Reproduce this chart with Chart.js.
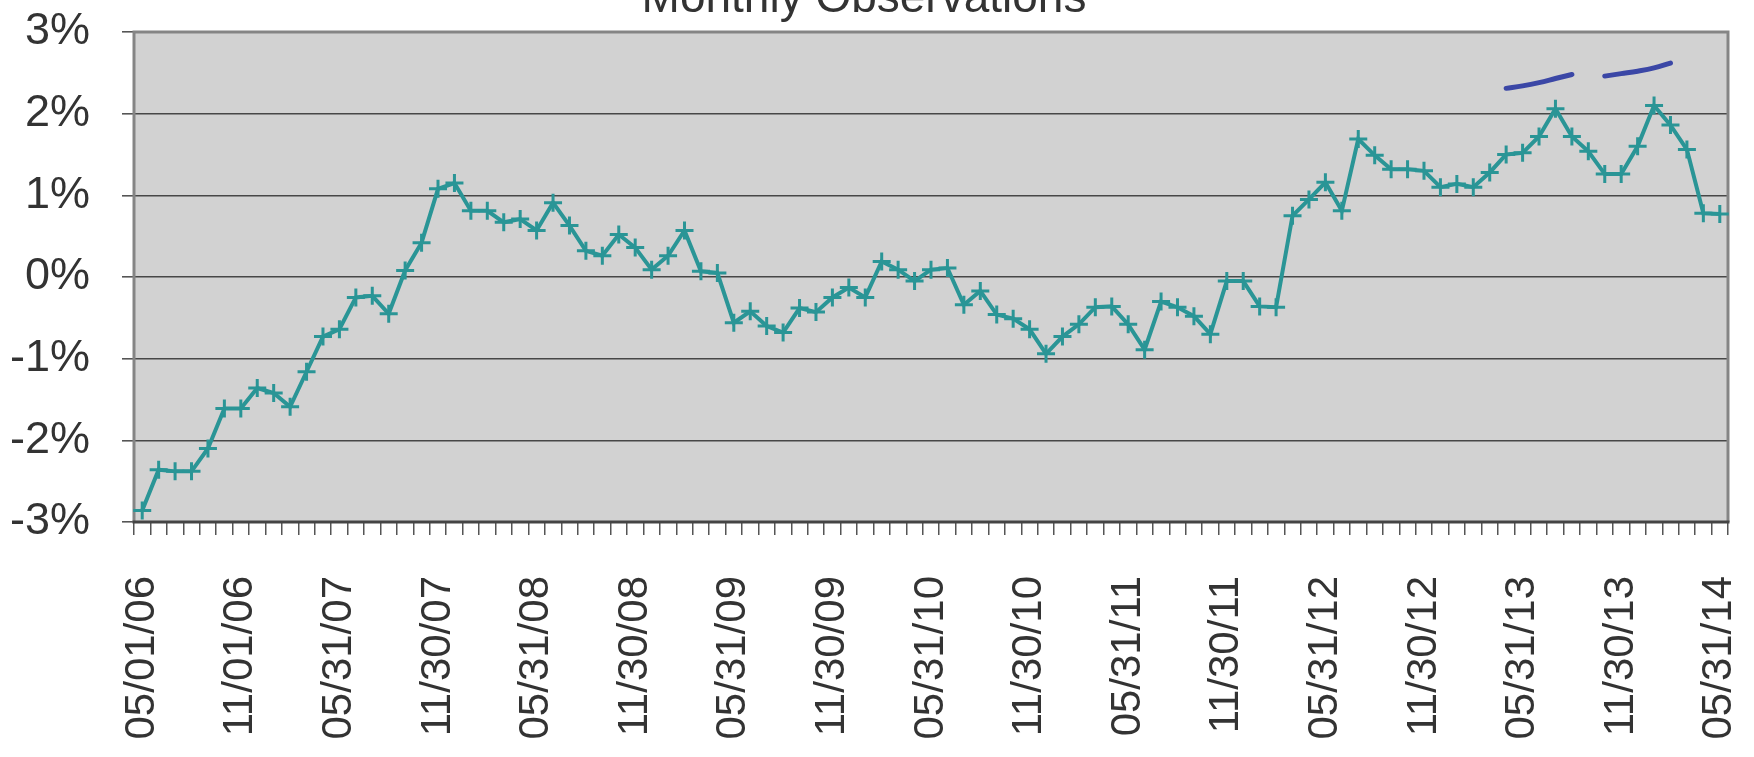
<!DOCTYPE html>
<html>
<head>
<meta charset="utf-8">
<title>Monthly Observations</title>
<script src="https://cdn.jsdelivr.net/npm/chart.js@4.4.1/dist/chart.umd.min.js"></script>
<style>
    html, body { margin: 0; padding: 0; background: #fff; overflow: hidden; }
    #chartBox { width: 1754px; height: 757px; overflow: hidden; }
    /* the title sits partly above the top edge of the page */
    #obsChart { display: block; margin-top: -28px; }
</style>
</head>
<body>
<div id="chartBox">
    <canvas id="obsChart" width="1754" height="785"></canvas>
</div>
<script>
// month-end observation dates (the first few were stamped on the 1st)
const dates = [
    '05/01/06', '06/01/06', '07/01/06', '08/01/06', '09/01/06', '10/01/06', '11/01/06', '12/31/06',
    '01/31/07', '02/28/07', '03/31/07', '04/30/07', '05/31/07', '06/30/07', '07/31/07', '08/31/07', '09/30/07', '10/31/07', '11/30/07', '12/31/07',
    '01/31/08', '02/29/08', '03/31/08', '04/30/08', '05/31/08', '06/30/08', '07/31/08', '08/31/08', '09/30/08', '10/31/08', '11/30/08', '12/31/08',
    '01/31/09', '02/28/09', '03/31/09', '04/30/09', '05/31/09', '06/30/09', '07/31/09', '08/31/09', '09/30/09', '10/31/09', '11/30/09', '12/31/09',
    '01/31/10', '02/28/10', '03/31/10', '04/30/10', '05/31/10', '06/30/10', '07/31/10', '08/31/10', '09/30/10', '10/31/10', '11/30/10', '12/31/10',
    '01/31/11', '02/28/11', '03/31/11', '04/30/11', '05/31/11', '06/30/11', '07/31/11', '08/31/11', '09/30/11', '10/31/11', '11/30/11', '12/31/11',
    '01/31/12', '02/29/12', '03/31/12', '04/30/12', '05/31/12', '06/30/12', '07/31/12', '08/31/12', '09/30/12', '10/31/12', '11/30/12', '12/31/12',
    '01/31/13', '02/28/13', '03/31/13', '04/30/13', '05/31/13', '06/30/13', '07/31/13', '08/31/13', '09/30/13', '10/31/13', '11/30/13', '12/31/13',
    '01/31/14', '02/28/14', '03/31/14', '04/30/14', '05/31/14'
];

// observed value, in percent
const observed = [
    -2.86, -2.36, -2.38, -2.38, -2.10, -1.61, -1.61, -1.36, -1.42, -1.59,
    -1.16, -0.73, -0.64, -0.25, -0.23, -0.45, 0.08, 0.42, 1.08, 1.15,
    0.81, 0.81, 0.67, 0.71, 0.57, 0.91, 0.63, 0.32, 0.26, 0.52,
    0.36, 0.09, 0.26, 0.57, 0.07, 0.05, -0.56, -0.42, -0.60, -0.68,
    -0.38, -0.43, -0.25, -0.13, -0.25, 0.19, 0.09, -0.05, 0.09, 0.11,
    -0.34, -0.17, -0.46, -0.51, -0.64, -0.94, -0.73, -0.58, -0.37, -0.36,
    -0.58, -0.89, -0.30, -0.37, -0.48, -0.70, -0.05, -0.05, -0.36, -0.37,
    0.75, 0.95, 1.16, 0.81, 1.69, 1.49, 1.32, 1.32, 1.30, 1.10,
    1.14, 1.10, 1.28, 1.50, 1.52, 1.72, 2.06, 1.72, 1.54, 1.26,
    1.26, 1.60, 2.10, 1.86, 1.56, 0.78, 0.77
];

// hand-drawn pen strokes over the two 2013 peaks: [date, level %]
const penStrokeA = [['04/30/13', 2.31], ['05/31/13', 2.34], ['06/30/13', 2.38], ['07/31/13', 2.43], ['08/31/13', 2.48]];
const penStrokeB = [['10/31/13', 2.46], ['11/30/13', 2.49], ['12/31/13', 2.52], ['01/31/14', 2.56], ['02/28/14', 2.62]];

const yTicks = [-3, -2, -1, 0, 1, 2, 3];
const labelEvery = 6;

const teal = '#2a9596';
const inkBlue = '#3b47a6';
const textColor = '#333333';
const fontFamily = 'Liberation Sans, Arial, sans-serif';

// pen strokes as one dataset, broken by a null between them
const penData = penStrokeA.map(p => ({ x: p[0], y: p[1] }))
    .concat([{ x: '09/30/13', y: null }])
    .concat(penStrokeB.map(p => ({ x: p[0], y: p[1] })));

// grey plot area plus its frame
const plotFrame = {
    id: 'plotFrame',
    beforeDraw(chart) {
        const { ctx, chartArea: a } = chart;
        ctx.save();
        ctx.fillStyle = '#d2d2d2';
        ctx.fillRect(a.left, a.top, a.right - a.left, a.bottom - a.top);
        ctx.restore();
    },
    beforeDatasetsDraw(chart) {
        const { ctx, chartArea: a } = chart;
        ctx.save();
        ctx.lineWidth = 3;
        ctx.strokeStyle = '#858585';
        ctx.beginPath();
        ctx.moveTo(a.left, a.bottom);
        ctx.lineTo(a.left, a.top);
        ctx.lineTo(a.right, a.top);
        ctx.lineTo(a.right, a.bottom);
        ctx.stroke();
        ctx.strokeStyle = '#444';
        ctx.beginPath();
        ctx.moveTo(a.left - 1.5, a.bottom);
        ctx.lineTo(a.right + 1.5, a.bottom);
        ctx.stroke();
        ctx.restore();
    }
};

const ctx = document.getElementById('obsChart').getContext('2d');

const chart = new Chart(ctx, {
    type: 'line',
    data: {
        labels: dates,
        datasets: [
            {
                label: 'Observed',
                data: observed,
                borderColor: teal,
                borderWidth: 4,
                pointStyle: 'cross',
                pointRadius: 9,
                pointBorderWidth: 3,
                pointBorderColor: teal,
                pointBackgroundColor: teal,
                tension: 0,
                order: 2
            },
            {
                label: 'pen',
                data: penData,
                borderColor: inkBlue,
                borderWidth: 5,
                borderCapStyle: 'round',
                pointRadius: 0,
                tension: 0.4,
                spanGaps: false,
                order: 1
            }
        ]
    },
    options: {
        responsive: false,
        animation: false,
        devicePixelRatio: 1,
        layout: { padding: { left: 0, right: 26, top: 0, bottom: 0 } },
        plugins: {
            legend: { display: false },
            tooltip: { enabled: false },
            title: {
                display: true,
                text: 'Monthly Observations',
                color: textColor,
                font: { family: fontFamily, size: 46, weight: 'normal' },
                padding: { top: 0, bottom: 4.8 }
            }
        },
        scales: {
            x: {
                type: 'category',
                offset: true,
                grid: {
                    offset: true,
                    drawOnChartArea: false,
                    drawTicks: true,
                    tickLength: 13,
                    color: '#555',
                    lineWidth: 1.5
                },
                border: { display: false },
                ticks: {
                    autoSkip: false,
                    minRotation: 90,
                    maxRotation: 90,
                    padding: 41,
                    color: textColor,
                    font: { family: fontFamily, size: 42 },
                    callback: (v, i) => (i % labelEvery === 0 ? dates[i] : '')
                },
                afterFit: axis => {
                    axis.height = 235;
                    // let the plot run to the right margin, labels may overhang
                    axis.paddingLeft = 0;
                    axis.paddingRight = 0;
                }
            },
            y: {
                min: yTicks[0],
                max: yTicks[yTicks.length - 1],
                afterBuildTicks: axis => { axis.ticks = yTicks.map(v => ({ value: v })); },
                grid: {
                    color: '#474747',
                    lineWidth: 1.6,
                    drawTicks: true,
                    tickLength: 12,
                    tickColor: '#555'
                },
                border: { display: false },
                ticks: {
                    padding: 32,
                    color: textColor,
                    font: { family: fontFamily, size: 45 },
                    callback: v => v + '%'
                },
                afterFit: axis => { axis.width = 134; }
            }
        }
    },
    plugins: [plotFrame]
});
</script>
</body>
</html>
